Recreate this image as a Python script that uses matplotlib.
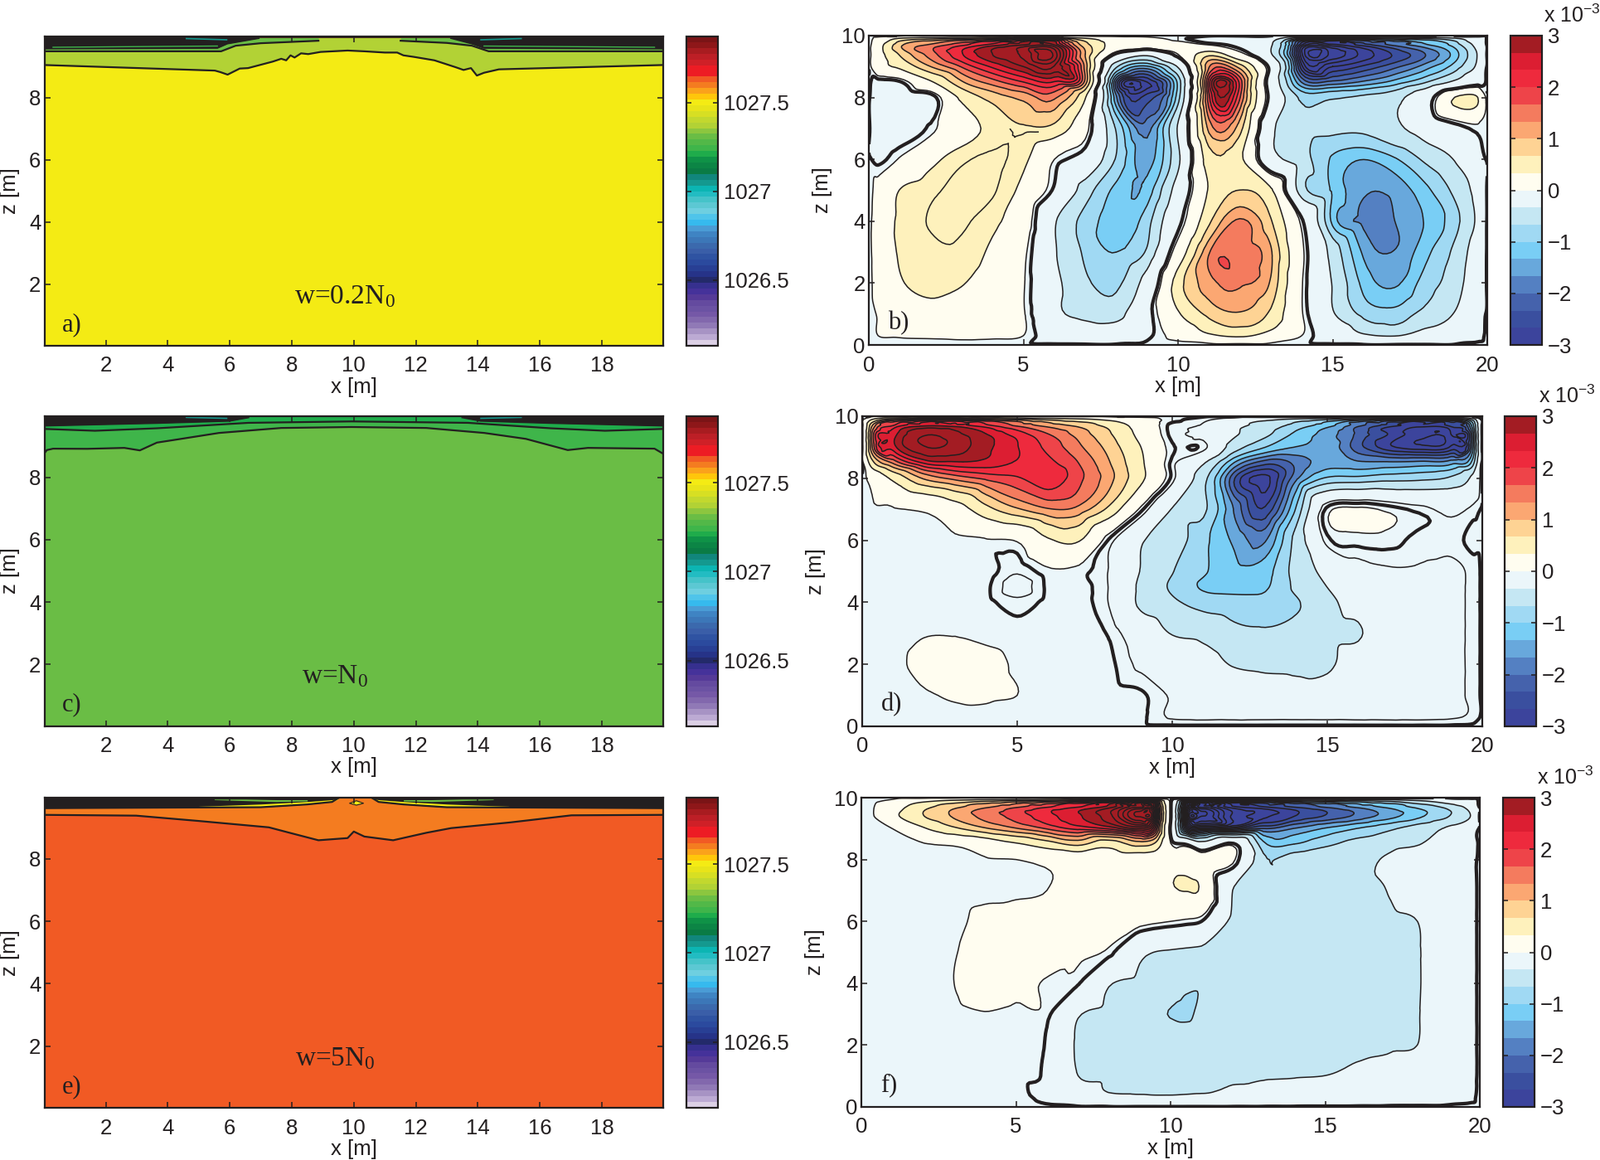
import numpy as np
import matplotlib
matplotlib.use("Agg")
import matplotlib.pyplot as plt
import matplotlib.tri as mtri
from matplotlib.colors import ListedColormap, BoundaryNorm
from matplotlib.cm import ScalarMappable
from matplotlib.patches import Rectangle

plt.rcParams["font.family"] = ["Liberation Sans", "DejaVu Sans"]
plt.rcParams["mathtext.default"] = "regular"

W, H = 1930, 1399
INK = "#231f20"

# colour bar of the density panels, top to bottom
rho_colors = ["#7b1416", "#8e1719", "#a81c20", "#bd1f26", "#cf2027", "#ed1c24", "#ed1c24", "#f15a24", "#f47c20",
              "#faa21b", "#ffc60b", "#f4eb14", "#e8e419", "#d7df23", "#c2d82e", "#b2d235", "#8cc63f", "#6abd45",
              "#52b848", "#3fb54a", "#1fac4b", "#0f9247", "#0c8545", "#0a7b45", "#11867c", "#14998f", "#0cb5b3",
              "#22bcc2", "#45c3c9", "#5cc8d3", "#6ecfe0", "#4fc4ea", "#36baee", "#4a9cd5", "#3f84c3", "#3c77b8",
              "#3b69ad", "#3a5ea8", "#2f53a2", "#2b4a9e", "#283f94", "#263388", "#232a6a", "#36308f", "#45329a",
              "#553a98", "#644a9f", "#6b52a3", "#7558a7", "#8268ad", "#9079b6", "#a793c4", "#bcaad3", "#dcd0e5"]
rho_ticks = [1026.5, 1027, 1027.5]
rho_tick_labels = ["1026.5", "1027", "1027.5"]

# streamfunction colour bar, top to bottom
psi_colors = ["#a31c23", "#dc1e32", "#ee2a3d", "#ee4449", "#f47b5e", "#fba772", "#fed394", "#fef1bc", "#fffdf0",
              "#ebf6fa", "#c5e7f3", "#a0d9f3", "#79cef5", "#68a8dc", "#5480c2", "#4562ac", "#3a4f9f", "#3c449c"]
psi_ticks = [-3, -2, -1, 0, 1, 2, 3]

# panel a) interfaces
xa1 = [0, 5.52, 5.7, 5.93, 6.15, 6.32, 6.59, 7.39, 7.66, 7.82, 7.96, 8.09, 8.3, 8.53, 8.93, 9.8, 10.34, 11.0, 11.4,
       11.6, 11.94, 12.6, 13.28, 13.54, 13.78, 13.97, 14.2, 14.68, 20]
za1 = [9.05, 8.87, 8.82, 8.74, 8.85, 8.935, 8.95, 9.16, 9.25, 9.2, 9.36, 9.29, 9.425, 9.4, 9.47, 9.515, 9.49, 9.45,
       9.45, 9.36, 9.31, 9.2, 8.98, 8.89, 8.95, 8.71, 8.8, 8.91, 9.05]
xa2l = [0, 5.72, 6.19, 7.0, 8.86]
za2l = [9.49, 9.49, 9.67, 9.75, 9.83]
xa2r = [11.51, 13.0, 13.81, 14.35, 20]
za2r = [9.83, 9.76, 9.67, 9.49, 9.49]
xa3l = [0, 5.6, 5.92, 6.93]
za3l = [9.58, 9.6, 9.74, 9.915]
xa3r = [13.14, 13.81, 14.2, 20]
za3r = [9.915, 9.74, 9.6, 9.58]

# panel c) interfaces
xc1 = [0, 0.1, 0.3, 1.4, 2.6, 3.1, 3.65, 4.3, 5.65, 7.66, 9.93, 12.34, 14.21, 15.55, 16.9, 17.55, 19.7, 20]
zc1 = [8.75, 8.88, 8.925, 8.92, 8.95, 8.87, 9.12, 9.22, 9.43, 9.59, 9.62, 9.59, 9.43, 9.24, 8.88, 8.95, 8.925, 8.75]
xc2 = [0, 1.65, 3.65, 6.6, 9.93, 13.68, 16.35, 18.1, 20]
zc2 = [9.56, 9.5, 9.58, 9.755, 9.8, 9.755, 9.58, 9.5, 9.56]
xc3l = [0, 3.65, 5.99, 6.6]
zc3l = [9.665, 9.75, 9.82, 9.93]
xc3r = [13.5, 14.1, 16.35, 20]
zc3r = [9.93, 9.82, 9.75, 9.665]

# panel e) interfaces
xe1 = [0, 2.98, 4.99, 7.26, 7.93, 8.86, 9.8, 10.0, 10.34, 11.27, 12.34, 13.14, 15.02, 17.02, 20]
ze1 = [9.415, 9.39, 9.22, 9.015, 8.84, 8.6, 8.67, 8.88, 8.72, 8.6, 8.84, 8.99, 9.17, 9.4, 9.415]
xe2l = [0, 7.0, 8.5, 9.3, 9.55]
ze2l = [9.63, 9.66, 9.75, 9.83, 9.98]
xe2r = [10.55, 10.8, 11.6, 13.0, 20]
ze2r = [9.98, 9.83, 9.75, 9.66, 9.63]
xe_pat_l = [5.0, 7.0, 8.5, 9.3, 9.5]
ze_pat_l_lo = [9.68, 9.68, 9.76, 9.83, 9.92]
ze_pat_l_hi = [9.69, 9.76, 9.84, 9.9, 9.93]
xe_pat_r = [10.6, 10.8, 11.6, 13.0, 15.0]
ze_pat_r_lo = [9.92, 9.83, 9.76, 9.68, 9.68]
ze_pat_r_hi = [9.93, 9.9, 9.84, 9.76, 9.69]
xe_grn_l = [5.5, 6.5, 7.5, 8.5]
ze_grn_l_lo = [9.9, 9.87, 9.84, 9.86]
ze_grn_l_hi = [9.92, 9.92, 9.9, 9.9]
xe_grn_r = [11.6, 12.5, 13.5, 14.5]
ze_grn_r_lo = [9.86, 9.84, 9.87, 9.9]
ze_grn_r_hi = [9.9, 9.9, 9.92, 9.92]
xe_dot = [9.85, 10.07, 10.3]
ze_dot_lo = [9.8, 9.74, 9.8]
ze_dot_hi = [9.8, 9.88, 9.8]

# streamfunction fields, x 10^-3, rows top to bottom
x_psi = [0.3, 1, 2, 3, 4, 5, 6, 7, 8, 9, 10, 11, 12, 13, 14, 15, 16, 17, 18, 19, 19.7]
x_psi_f = [0.3, 1, 2, 3, 4, 5, 6, 7, 8, 9, 9.5, 10, 10.5, 11, 12, 13, 14, 15, 16, 17, 18, 19, 19.7]
z_psi_b = [9.9, 9.7, 9.4, 9, 8.5, 8, 7, 6, 5, 4, 3, 2, 1, 0.3]
z_psi_d = [9.9, 9.7, 9.4, 9, 8.5, 8, 7, 6, 5, 4.5, 4, 3, 2, 1, 0.3]
z_psi_f = [9.9, 9.7, 9.4, 9, 8.5, 8, 7, 6, 5, 4, 3, 2, 1, 0.3]

psi_b = [
    [.1, .4, .6, .8, 1.0, 1.3, 1.4, .4, .15, .1, .02, -.1, -.1, -.2, -1.2, -1.4, -1.1, -.9, -.7, -.4, -.1],
    [.2, .9, 1.4, 1.9, 2.5, 3.0, 3.0, .8, .2, .15, .1, .05, -.05, -.3, -3.0, -3.1, -2.5, -1.9, -1.4, -.8, -.2],
    [.2, .7, 1.5, 2.3, 3.0, 3.4, 3.9, 1.0, -.02, -.25, .05, .55, .1, -.3, -3.6, -3.9, -3.2, -2.6, -2.0, -1.1, -.3],
    [.2, .4, 1.0, 1.7, 2.4, 3.0, 3.3, 1.2, -.6, -1.4, -.3, 1.3, .85, -.05, -2.9, -3.0, -2.6, -2.1, -1.5, -.8, -.25],
    [-.03, -.01, .3, .95, 1.5, 2.0, 2.3, 1.2, -2.1, -3.0, -.9, 2.2, 1.9, -.1, -1.7, -1.9, -1.6, -1.2, -.7, -.25, -.05],
    [-.1, -.1, -.05, .4, .8, 1.1, 1.4, .35, -1.6, -2.5, -.8, 1.9, 1.7, -.05, -.75, -.7, -.6, -.45, -.1, .36, .33],
    [-.08, -.08, .02, .2, .42, .62, .55, .1, -.7, -1.8, -.3, 1.1, .8, -.25, -.55, -.6, -.6, -.4, -.2, -.05, .02],
    [-.02, .06, .25, .5, .62, .4, .05, -.08, -.7, -1.5, -.4, .5, .4, -.2, -.5, -1.05, -1.33, -1.05, -.6, -.3, -.05],
    [.1, .34, .5, .64, .6, .25, -.02, -.5, -1.1, -1.2, -.2, .36, .67, .38, -.5, -1.05, -1.6, -1.55, -1.1, -.55, -.2],
    [.15, .38, .58, .6, .4, .15, -.3, -.8, -1.15, -.8, -.05, .6, 1.4, .7, .02, -1.1, -1.75, -1.67, -1.3, -.75, -.25],
    [.15, .36, .5, .5, .28, .08, -.3, -.72, -1.0, -.6, .15, 1.3, 1.5, 1.05, .08, -.45, -1.4, -1.65, -1.1, -.55, -.15],
    [.12, .3, .45, .35, .2, .06, -.25, -.6, -.75, -.2, .5, 1.2, 1.38, .95, .06, -.35, -1.1, -1.4, -.85, -.45, -.12],
    [.06, .17, .22, .2, .14, .06, -.25, -.42, -.45, -.05, .3, .75, .95, .6, .06, -.3, -.75, -.85, -.55, -.3, -.05],
    [.05, .06, .07, .08, .07, .05, -.08, -.12, -.12, -.02, .1, .28, .38, .22, .05, -.08, -.28, -.35, -.2, -.1, -.02],
]

psi_d = [
    [.3, .9, 1.2, 1.15, 1.0, .8, .55, .4, .25, .12, .02, -.03, -.1, -.25, -.4, -.6, -.9, -1.2, -1.4, -1.2, -.5],
    [.9, 2.0, 2.6, 2.5, 2.1, 1.6, 1.2, .9, .55, .2, -.02, -.06, -.25, -.45, -.8, -1.2, -1.9, -2.5, -2.8, -2.5, -1.1],
    [1.3, 2.5, 3.3, 3.1, 2.7, 2.2, 1.7, 1.2, .7, .25, -.02, -.08, -.3, -.6, -1.1, -1.5, -2.1, -2.7, -3.2, -3.0, -1.5],
    [1.2, 2.5, 3.3, 3.2, 2.75, 2.35, 1.9, 1.4, .85, .33, .01, -.02, -.5, -1.0, -1.35, -1.45, -2.2, -2.9, -3.2, -2.9, -1.4],
    [.5, 1.4, 2.4, 2.6, 2.55, 2.3, 2.1, 1.65, 1.0, .38, -.02, -.3, -1.35, -2.2, -1.9, -1.5, -1.6, -1.6, -1.55, -1.45, -.8],
    [.1, .4, 1.05, 1.45, 1.75, 1.95, 2.25, 1.75, 1.1, .4, -.02, -.55, -2.3, -3.1, -1.75, -.95, -.9, -.8, -.75, -.6, -.25],
    [.04, .04, .07, .2, .55, .95, 1.3, 1.2, .55, .02, -.35, -.6, -1.7, -2.6, -.95, .02, .07, .03, -.02, -.08, -.03],
    [.03, .03, .03, .035, .04, .06, .3, .35, -.02, -.3, -.5, -.9, -1.4, -1.7, -.55, -.02, .02, .02, -.02, -.03, .02],
    [.02, .02, .02, .03, .03, -.04, .03, .02, -.06, -.35, -.65, -.95, -1.25, -1.15, -.55, -.25, -.1, -.06, -.06, -.07, -.03],
    [.02, .02, .02, .02, .01, -.09, .01, .02, -.06, -.4, -.72, -1.05, -1.15, -1.05, -.6, -.33, -.12, -.07, -.06, -.07, -.03],
    [.02, .02, .02, .02, .015, -.03, .015, .02, -.06, -.4, -.6, -.8, -.85, -.9, -.7, -.42, -.2, -.07, -.06, -.07, -.03],
    [.02, .02, .045, .045, .03, .02, .02, .02, -.01, -.15, -.35, -.42, -.58, -.62, -.55, -.45, -.38, -.08, -.07, -.07, -.03],
    [.02, .03, .08, .12, .08, .04, .02, .02, .01, -.07, -.09, -.2, -.36, -.42, -.42, -.4, -.15, -.08, -.07, -.07, -.03],
    [.02, .02, .04, .06, .06, .05, .02, .02, .02, .01, -.06, -.07, -.1, -.15, -.2, -.18, -.1, -.08, -.08, -.07, -.03],
    [.02, .02, .02, .03, .03, .02, .02, .02, .02, .01, -.06, -.07, -.07, -.07, -.07, -.07, -.07, -.07, -.07, -.06, -.03],
]

psi_f = [
    [.02, .08, .25, .4, .55, .7, .85, 1.05, 1.3, 1.9, 1.5, .02, -1.6, -2, -1.4, -1.2, -1, -.85, -.7, -.55, -.35, -.15, -.04],
    [.03, .2, .55, .9, 1.25, 1.6, 1.95, 2.3, 2.8, 3.9, 3, .02, -3.3, -4.2, -3.1, -2.7, -2.3, -1.95, -1.6, -1.25, -.9, -.55, -.2],
    [.03, .25, .65, 1.05, 1.45, 1.8, 2.2, 2.6, 3.2, 4.7, 3.5, .02, -4, -5, -3.6, -3.1, -2.67, -2.3, -1.92, -1.5, -1.08, -.67, -.33],
    [.01, .05, .3, .6, .95, 1.3, 1.7, 2.1, 2.4, 3.0, 2.2, -.02, -2.4, -3.0, -2.6, -2.0, -1.65, -1.3, -1.0, -.75, -.5, -.28, -.07],
    [.01, .015, .04, .07, .15, .3, .5, .75, .45, .8, .6, .06, -.01, -.2, .02, -.9, -1.0, -.75, -.55, -.45, -.35, -.15, -.04],
    [.01, .015, .02, .03, .04, .05, .1, .15, .17, .18, .2, .22, .2, .17, .08, -.6, -.5, -.4, -.42, -.3, -.15, -.08, -.02],
    [.01, .015, .02, .025, .03, .03, .05, .15, .2, .25, .25, .31, .34, .3, -.33, -.45, -.48, -.48, -.42, -.33, -.15, -.05, -.02],
    [.01, .015, .02, .03, .08, .12, .14, .13, .12, .09, .07, .05, .03, .0, -.4, -.42, -.45, -.46, -.45, -.42, -.33, -.06, -.02],
    [.01, .015, .02, .045, .1, .13, .11, .07, .03, -.25, -.34, -.37, -.4, -.42, -.44, -.45, -.46, -.46, -.45, -.43, -.36, -.07, -.02],
    [.01, .015, .02, .05, .12, .09, .04, .01, -.3, -.42, -.45, -.5, -.6, -.63, -.45, -.45, -.45, -.45, -.44, -.42, -.36, -.07, -.02],
    [.01, .015, .02, .03, .045, .03, .02, -.3, -.44, -.5, -.6, -.68, -.72, -.6, -.5, -.46, -.45, -.44, -.43, -.41, -.35, -.07, -.02],
    [.01, .01, .015, .015, .015, .02, -.01, -.38, -.42, -.43, -.44, -.44, -.45, -.45, -.45, -.44, -.43, -.42, -.4, -.38, -.33, -.07, -.02],
    [.01, .01, .01, .01, .012, .015, -.02, -.33, -.38, -.38, -.38, -.38, -.38, -.38, -.37, -.36, -.35, -.33, -.25, -.2, -.12, -.05, -.02],
    [.01, .01, .01, .01, .01, .012, -.02, -.13, -.25, -.27, -.28, -.28, -.27, -.26, -.2, -.17, -.14, -.1, -.08, -.06, -.05, -.03, -.01],
]

WALL = 0.01
CREAM_EDGE = 0.05
SOFT = 0.2  # smoothing is done on arcsinh(psi / SOFT) so it does not ring around zero

fig = plt.figure(figsize=(W / 100, H / 100), dpi=100, facecolor="white")


def box(l, t, r, b):
    return fig.add_axes([l / W, 1 - b / H, (r - l) / W, (b - t) / H])


def style(ax):
    ax.tick_params(direction="in", length=5, width=1.1, top=True, right=True, labelsize=18.5, colors=INK)
    ax.tick_params(axis="x", pad=9)
    ax.tick_params(axis="y", pad=3)
    for s in ax.spines.values():
        s.set_linewidth(1.6)
        s.set_color(INK)
    ax.set_xlabel("x [m]", fontsize=18.5, color=INK, labelpad=1)
    ax.set_ylabel("z [m]", fontsize=18.5, color=INK, labelpad=8)


# density colour scale
rho_cmap = ListedColormap(rho_colors[::-1])
rho_bounds = np.linspace(1026.13, 1027.874, len(rho_colors) + 1)
rho_norm = BoundaryNorm(rho_bounds, len(rho_colors))


def rho_color(v):
    return rho_cmap(rho_norm(v))


def layer(ax, x, z, rho=None, line=True):
    c = INK if rho is None else rho_color(rho)
    ax.fill_between(x, z, 10.1, color=c, linewidth=0)
    if line:
        ax.plot(x, z, color=INK, lw=1.6)


def density_panel(box_px, cbar_px, tag, note, note_x):
    ax = box(*box_px)
    ax.set_xlim(0.02, 19.98)
    ax.set_ylim(0.02, 9.98)
    ax.set_xticks(range(2, 20, 2))
    ax.set_yticks(range(2, 10, 2))
    style(ax)
    ax.text(0.58, 0.7, tag, fontsize=22, family="Liberation Serif", color=INK, va="center")
    ax.text(note_x, 1.6, note, fontsize=24, family="Liberation Serif", color=INK, ha="center", va="center")
    cax = box(*cbar_px)
    cb = fig.colorbar(ScalarMappable(norm=rho_norm, cmap=rho_cmap), cax=cax, spacing="proportional")
    cb.set_ticks(rho_ticks, labels=rho_tick_labels)
    cb.minorticks_off()
    cax.tick_params(direction="in", length=4, width=1.1, left=True, right=True, labelsize=18.5, colors=INK, pad=5)
    cb.outline.set_linewidth(1.6)
    cb.outline.set_edgecolor(INK)
    return ax


# panel a
ax = density_panel((53.5, 43.5, 800, 417), (828, 44, 866, 417), "a)", "w=0.2N$_0$", 9.7)
ax.set_facecolor(rho_color(1027.5))
layer(ax, xa1, za1, 1027.37)
layer(ax, xa2l, za2l, 1027.31)
layer(ax, xa2r, za2r, 1027.31)
layer(ax, xa3l, za3l)
layer(ax, xa3r, za3r)
ax.fill_between([6.9, 13.2], [9.92, 9.92], 10.1, color="#4a2e1a", linewidth=0)
ax.plot([4.6, 5.9], [9.9, 9.86], color="#14998f", lw=1.2)
ax.plot([14.1, 15.4], [9.86, 9.9], color="#14998f", lw=1.2)
ax.plot([0.3, 5.6], [9.62, 9.66], color="#3fb54a", lw=1.0)
ax.plot([14.2, 19.7], [9.66, 9.62], color="#3fb54a", lw=1.0)

# panel c
ax = density_panel((53.5, 501.5, 800, 875.5), (828, 502, 866, 876), "c)", "w=N$_0$", 9.4)
ax.set_facecolor(rho_color(1027.31))
layer(ax, xc1, zc1, 1027.24)
layer(ax, xc2, zc2, 1027.21)
layer(ax, xc3l, zc3l)
layer(ax, xc3r, zc3r)
ax.fill_between([6.8, 13.3], [9.93, 9.93], 10.1, color="#4a2e1a", linewidth=0)
ax.plot([4.6, 5.9], [9.93, 9.9], color="#14998f", lw=1.2)
ax.plot([14.1, 15.4], [9.9, 9.93], color="#14998f", lw=1.2)

# panel e
ax = density_panel((53.5, 961.5, 800, 1336), (828, 962, 866, 1336), "e)", "w=5N$_0$", 9.4)
ax.set_facecolor(rho_color(1027.63))
layer(ax, xe1, ze1, 1027.6)
layer(ax, xe2l, ze2l)
layer(ax, xe2r, ze2r)
ax.fill_between(xe_pat_l, ze_pat_l_lo, ze_pat_l_hi, color=rho_color(1027.5), linewidth=0)
ax.fill_between(xe_pat_r, ze_pat_r_lo, ze_pat_r_hi, color=rho_color(1027.5), linewidth=0)
ax.fill_between(xe_grn_l, ze_grn_l_lo, ze_grn_l_hi, color=rho_color(1027.31), linewidth=0)
ax.fill_between(xe_grn_r, ze_grn_r_lo, ze_grn_r_hi, color=rho_color(1027.31), linewidth=0)
ax.fill_between(xe_dot, ze_dot_lo, ze_dot_hi, color=rho_color(1027.5), edgecolor=INK, linewidth=0.8)
ax.fill_between([9.4, 10.7], [9.94, 9.94], 10.1, color="#4a2e1a", linewidth=0)

# streamfunction colour scale
psi_bounds = np.arange(-9, 10) / 3.0
fill_levels = psi_bounds.copy()
fill_levels[9] = CREAM_EDGE
psi_cmap = ListedColormap(psi_colors[::-1])
psi_cmap.set_over(psi_colors[0])
psi_cmap.set_under(psi_colors[-1])
psi_norm = BoundaryNorm(fill_levels, len(psi_colors))
psi_norm_bar = BoundaryNorm(psi_bounds, len(psi_colors))
outer = np.arange(10, 22) / 3.0
line_levels = np.concatenate([-outer[::-1], fill_levels, outer])


def psi_panel(box_px, cbar_px, tag, xs, zs, rows, exp_xy, extra=()):
    ax = box(*box_px)
    x = np.r_[0, xs, 20]
    z = np.r_[10, zs, 0]
    f = np.pad(np.array(rows, dtype=float), 1, constant_values=WALL)
    X, Z = np.meshgrid(x, z)
    tri = mtri.Triangulation(X.ravel(), Z.ravel())
    g = np.arcsinh(f.ravel() / SOFT)
    interp = mtri.CubicTriInterpolator(tri, g, kind="geom")
    tri2, g2 = mtri.UniformTriRefiner(tri).refine_field(g, triinterpolator=interp, subdiv=3)
    f2 = SOFT * np.sinh(g2)
    ax.tricontourf(tri2, f2, levels=fill_levels, cmap=psi_cmap, norm=psi_norm, extend="both")
    ax.tricontour(tri2, f2, levels=np.sort(np.r_[line_levels, list(extra)]), colors=INK, linewidths=1.1,
                  linestyles="solid")
    ax.tricontour(tri2, f2, levels=[0], colors=INK, linewidths=3.0, linestyles="solid")
    ax.set_xlim(0, 20)
    ax.set_ylim(0, 10)
    ax.set_xticks([0, 5, 10, 15, 20])
    ax.set_yticks(range(0, 11, 2))
    style(ax)
    ax.text(0.62, 0.7, tag, fontsize=22, family="Liberation Serif", color=INK, va="center")
    cax = box(*cbar_px)
    cb = fig.colorbar(ScalarMappable(norm=psi_norm_bar, cmap=psi_cmap), cax=cax, spacing="proportional")
    cb.set_ticks(psi_ticks)
    cb.minorticks_off()
    cax.set_yticklabels(["\u22123", "\u22122", "\u22121", "0", "1", "2", "3"])
    cax.tick_params(direction="in", length=4, width=1.1, left=True, right=True, labelsize=18.5, colors=INK, pad=5)
    cb.outline.set_linewidth(1.6)
    cb.outline.set_edgecolor(INK)
    fig.text(exp_xy[0] / W, 1 - exp_xy[1] / H, "x 10$^{\u22123}$", fontsize=18, color=INK, va="baseline")
    return ax, tri2, f2


ax_b, tri_b, f_b = psi_panel((1048, 43, 1794, 416), (1822, 43, 1860, 416), "b)", x_psi, z_psi_b, psi_b, (1862, 27))
# the closed inner lobe left of the first column
cs = ax_b.tricontour(tri_b, f_b, levels=[0.56], colors=INK, linewidths=1.1, linestyles="solid")
cs.set_clip_path(Rectangle((0.5, 2.5), 5, 4.5, transform=ax_b.transData))

psi_panel((1040, 502, 1788, 876), (1815, 502, 1853, 876), "d)", x_psi, z_psi_d, psi_d, (1856, 486), extra=[-0.05])
psi_panel((1039, 962, 1785, 1335), (1813, 962, 1851, 1335), "f)", x_psi_f, z_psi_f, psi_f, (1854, 946))

fig.savefig("out.png", dpi=100)
